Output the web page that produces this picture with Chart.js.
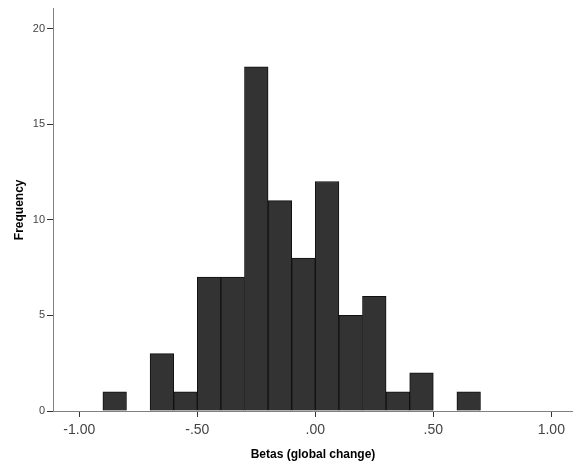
<!DOCTYPE html>
<html>
<head>
<meta charset="utf-8">
<script src="https://cdn.jsdelivr.net/npm/chart.js@4/dist/chart.umd.min.js"></script>
<style>
html,body{margin:0;padding:0;background:#fff;}
#wrap{width:573px;height:466px;}
</style>
</head>
<body>
<div id="wrap"><canvas id="c" width="573" height="466"></canvas></div>
<script>
// Histogram bins (left edge of each bin, width 0.1)
const binStarts = [-0.9,-0.8,-0.7,-0.6,-0.5,-0.4,-0.3,-0.2,-0.1,0.0,0.1,0.2,0.3,0.4,0.5,0.6];
const frequencies = [1,0,3,1,7,7,18,11,8,12,5,6,1,2,0,1];
const binWidth = 0.1;
const xTickValues = [-1,-0.5,0,0.5,1];
const xTickLabels = ['-1.00','-.50','.00','.50','1.00'];
const yTickValues = [0,5,10,15,20];
const xTitle = 'Betas (global change)';
const yTitle = 'Frequency';

const FONT = 'Arial, "Liberation Sans", sans-serif';
const points = binStarts.map((s,i)=>({x: s + binWidth/2, y: frequencies[i]}));

new Chart(document.getElementById('c'), {
  type: 'bar',
  data: {
    datasets: [{
      data: points,
      backgroundColor: '#333333',
      borderColor: '#111111',
      borderWidth: 1,
      borderSkipped: 'bottom',
      barPercentage: 1,
      categoryPercentage: 1
    }]
  },
  options: {
    responsive: false,
    animation: false,
    devicePixelRatio: 1,
    layout: { padding: { top: 6, left: 0, right: 0, bottom: 0 } },
    plugins: { legend: { display: false }, tooltip: { enabled: false } },
    scales: {
      x: {
        type: 'linear',
        offset: false,
        min: -1.1114,
        max: 1.092,
        afterBuildTicks: (s) => { s.ticks = xTickValues.map(v => ({value: v})); },
        afterFit: (s) => { s.height = 55; },
        grid: { drawOnChartArea: false, drawTicks: true, tickLength: 6, color: '#333', offset: false },
        border: { display: true, color: '#808080', width: 1 },
        ticks: {
          autoSkip: false,
          maxRotation: 0,
          padding: 5,
          color: '#444',
          font: { family: FONT, size: 14 },
          callback: (v) => { const i = xTickValues.findIndex(t => Math.abs(t - v) < 1e-9); return i >= 0 ? xTickLabels[i] : ''; }
        },
        title: { display: true, text: xTitle, color: '#000', font: { family: FONT, size: 12, weight: 'bold' }, padding: { top: 0, bottom: 4 } }
      },
      y: {
        min: 0,
        max: 21.04,
        afterBuildTicks: (s) => { s.ticks = yTickValues.map(v => ({value: v})); },
        afterFit: (s) => { s.width = 53; },
        grid: { drawOnChartArea: false, drawTicks: true, tickLength: 6, color: '#333' },
        border: { display: true, color: '#808080', width: 1 },
        ticks: {
          padding: 2,
          color: '#444',
          font: { family: FONT, size: 11 },
          callback: (v) => String(v)
        },
        title: { display: true, text: yTitle, color: '#000', font: { family: FONT, size: 12, weight: 'bold' }, padding: { top: 12, bottom: 0 } }
      }
    }
  }
});
</script>
</body>
</html>
